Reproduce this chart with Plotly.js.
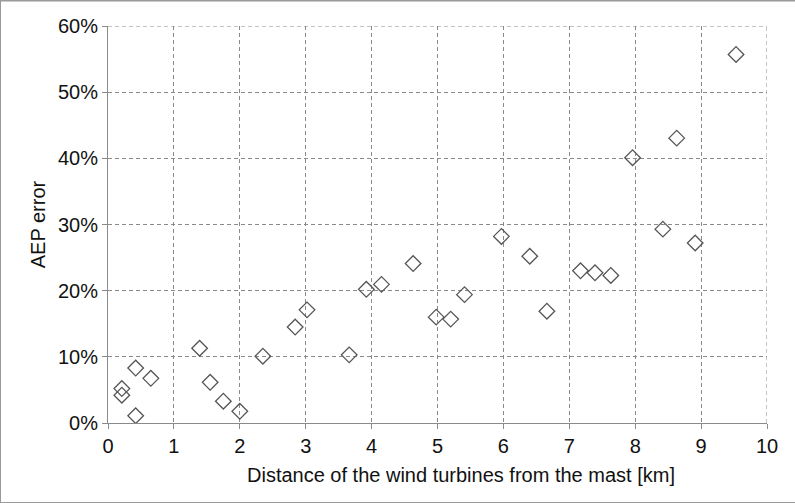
<!DOCTYPE html>
<html>
<head>
<meta charset="utf-8">
<script src="https://cdn.plot.ly/plotly-3.0.1.min.js"></script>
<style>
html,body{margin:0;padding:0;background:#fff;}
#chart{width:795px;height:503px;}
</style>
</head>
<body>
<div id="chart"></div>
<script>
// Distance of turbine from mast [km]
const distanceKm = [0.21, 0.21, 0.42, 0.65, 0.42, 1.39, 1.55, 1.75, 2.00, 2.35,
  2.84, 3.02, 3.66, 3.92, 4.15, 4.63, 4.98, 5.20, 5.41, 5.97,
  6.40, 6.66, 7.17, 7.39, 7.63, 7.96, 8.42, 8.63, 8.91, 9.53];
// AEP error [fraction]
const aepError = [0.052, 0.042, 0.083, 0.0675, 0.011, 0.113, 0.0615, 0.033, 0.0177, 0.101,
  0.145, 0.171, 0.103, 0.202, 0.2095, 0.241, 0.160, 0.157, 0.194, 0.282,
  0.252, 0.169, 0.230, 0.227, 0.223, 0.401, 0.293, 0.4305, 0.272, 0.557];
const xTicks = [0,1,2,3,4,5,6,7,8,9,10];
const yTicks = [0,0.1,0.2,0.3,0.4,0.5,0.6];
const xTitle = 'Distance of the wind turbines from the mast [km]';
const yTitle = 'AEP error';

const trace = {
  x: distanceKm, y: aepError, type: 'scatter', mode: 'markers',
  marker: {symbol: 'diamond-open', size: 12, color: '#555', line: {width: 1.3, color: '#555'}},
  hoverinfo: 'skip'
};
const fam = 'Liberation Sans, Arial, sans-serif';
const layout = {
  width: 795, height: 503,
  margin: {l: 108, r: 28, t: 26, b: 80},
  paper_bgcolor: '#fff', plot_bgcolor: '#fff',
  showlegend: false,
  font: {family: fam, color: '#000'},
  xaxis: {
    range: [0, 10], tickvals: xTicks, ticktext: xTicks.map(String),
    showgrid: true, gridcolor: '#8a8a8a', griddash: '4px,3px', gridwidth: 1,
    showline: true, linecolor: '#8a8a8a', linewidth: 1,
    ticks: 'outside', ticklen: 5, tickcolor: '#8a8a8a',
    zeroline: false, tickfont: {size: 20, family: fam, color: '#111'}
  },
  yaxis: {
    range: [0, 0.6], tickvals: yTicks, ticktext: yTicks.map(v => Math.round(v*100) + '%'),
    showgrid: true, gridcolor: '#8a8a8a', griddash: '4px,3px', gridwidth: 1,
    showline: true, linecolor: '#8a8a8a', linewidth: 1,
    ticks: 'outside', ticklen: 5, tickcolor: '#8a8a8a',
    zeroline: false, tickfont: {size: 20, family: fam, color: '#111'},
    title: {text: yTitle, font: {size: 20, family: fam, color: '#111'}, standoff: 6}
  },
  annotations: [
    {text: xTitle, xref: 'paper', yref: 'paper', x: 0.536, y: -0.132, xanchor: 'center', yanchor: 'middle',
     showarrow: false, font: {size: 20, family: fam, color: '#111'}}
  ],
  shapes: [
    {type: 'line', xref: 'x', yref: 'y', x0: 0, x1: 10, y0: 0.6, y1: 0.6, line: {color: '#8a8a8a', width: 1, dash: '4px,3px'}},
    {type: 'line', xref: 'x', yref: 'y', x0: 10, x1: 10, y0: 0, y1: 0.6, line: {color: '#8a8a8a', width: 1, dash: '4px,3px'}},
    {type: 'rect', xref: 'paper', yref: 'paper', x0: -0.1635, x1: 1.0537, y0: -0.2011, y1: 1.0635, line: {color: '#9a9a9a', width: 1.5}}
  ]
};
Plotly.newPlot('chart', [trace], layout, {displayModeBar: false, staticPlot: true});
</script>
</body>
</html>
